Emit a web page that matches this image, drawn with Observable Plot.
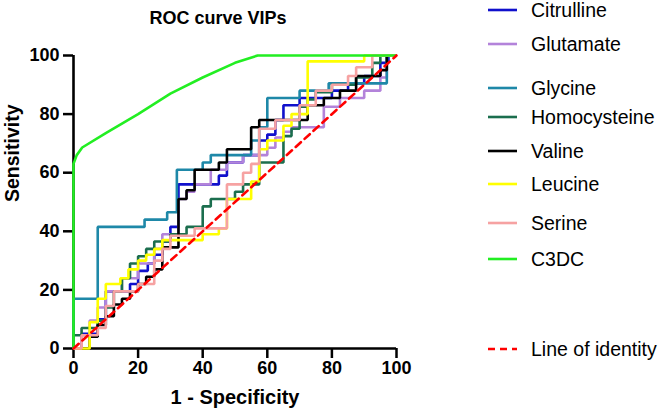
<!DOCTYPE html>
<html><head><meta charset="utf-8">
<script src="https://cdn.jsdelivr.net/npm/d3@7"></script>
<script src="https://cdn.jsdelivr.net/npm/@observablehq/plot@0.6"></script>
<style>
body{margin:0;background:#fff;}
#wrap{position:relative;width:666px;height:416px;font-family:Arial,"Liberation Sans",sans-serif;color:#000;}
#wrap svg.plot{position:absolute;left:0;top:0;}
#title{position:absolute;left:0;top:6px;width:436px;text-align:center;font-weight:bold;font-size:18px;line-height:24px;}
.leg{position:absolute;left:488px;height:0;width:170px;}
.leg svg{position:absolute;left:0;top:-5px;}
.leg span{position:absolute;left:43px;top:-12px;font-size:19.5px;white-space:nowrap;line-height:24px;}
</style></head>
<body>
<div id="wrap"><div id="title">ROC curve VIPs</div></div>
<script>
// ---- data (1 - specificity %, sensitivity %) ----
const xTicks = [0, 20, 40, 60, 80, 100];
const yTicks = [0, 20, 40, 60, 80, 100];

const citrullineX = [0, 2.5, 7.5, 10, 17.5, 20, 23, 25, 27.5, 30, 32.5, 45, 47.5, 52.5, 57.5, 60, 62.5, 65, 70, 80, 85, 90, 95, 97.5, 100];
const citrullineY = [0, 5, 10, 19.5, 22, 26.5, 29, 32, 36.5, 41.5, 56, 59, 63.5, 66, 71, 73, 78, 83, 85.5, 88, 90.5, 93, 97.5, 100, 100];

const glutamateX = [0, 2.5, 5, 7.5, 10, 15, 20, 25, 27.5, 32.5, 35, 37.5, 42.5, 47.5, 52.5, 60, 62.5, 65, 67.5, 77.5, 82.5, 90, 95, 97, 100];
const glutamateY = [0, 4.5, 9.5, 14, 19.5, 24, 29, 34, 39, 51, 53.5, 56, 61, 63.5, 66, 68.5, 72, 74, 75.5, 82.5, 85.5, 88, 92.5, 100, 100];

const glycineX = [0, 0, 7.5, 22, 29, 32, 40, 42.5, 55, 57.5, 60, 70, 79, 97, 100];
const glycineY = [0, 17, 41.5, 44, 46.5, 61, 63.5, 66, 71, 75.5, 85.5, 88, 90.5, 100, 100];

const homocysteineX = [0, 0, 2.5, 7.5, 10, 12.5, 15, 17.5, 20, 22.5, 25, 30, 35, 40, 42.5, 50, 52.5, 57.5, 65, 67.5, 70, 72.5, 75, 80, 87.5, 92.5, 95, 100];
const homocysteineY = [0, 4.5, 7, 9.5, 14, 19.5, 24, 29, 31.5, 34, 36.5, 39, 41.5, 48.5, 51, 53.5, 56, 63.5, 72.5, 75, 82.5, 85, 87.5, 90, 92.5, 97.5, 100, 100];

const valineX = [0, 5, 7.5, 10, 12.5, 15, 17.5, 20, 22.5, 25, 27.5, 32.5, 35, 37.5, 45, 47.5, 55, 57.5, 72.5, 77.5, 82.5, 87.5, 95, 97, 100];
const valineY = [0, 4, 8, 11, 15, 17, 19.5, 22, 24.5, 27, 34.5, 51, 54, 61, 63.5, 68, 75.5, 78, 83, 85.5, 88, 93, 95, 100, 100];

const leucineX = [0, 5, 7.5, 10, 14.5, 17, 20, 22.5, 25, 27.5, 40, 45, 47.5, 55, 57.5, 60, 65, 67.5, 72.5, 90, 100];
const leucineY = [0, 9, 17, 22, 24, 27, 30, 32, 34, 37, 39, 41, 51, 57, 68, 71, 76, 80, 98, 100, 100];

const serineX = [0, 2.5, 7.5, 10, 12.5, 20, 25, 27.5, 30, 37.5, 47.5, 52.5, 55, 57.5, 62.5, 70, 75, 80, 85, 87.5, 92.5, 100];
const serineY = [0, 4.5, 7, 14.5, 19.5, 22, 30, 34, 38.5, 41, 56, 60, 63, 75, 78, 83, 88, 90, 93, 96, 100, 100];

const c3dcX = [0, 0, 1, 2.7, 10, 20, 30, 40, 50, 57, 100];
const c3dcY = [0, 63, 66, 68.6, 73.5, 80, 87, 92.5, 97.5, 100, 100];

const identityX = [0, 100];
const identityY = [0, 100];

const seriesNames = ["Citrulline", "Glutamate", "Glycine", "Homocysteine", "Valine", "Leucine", "Serine", "C3DC"];
const seriesColors = ["#1010CC", "#B383DA", "#1E88A8", "#1B6E4E", "#000000", "#FFFF00", "#F6A2A2", "#22EE22"];
const identityName = "Line of identity";
const identityColor = "#FF0000";

// ---- build rows ----
const seriesXY = [[citrullineX, citrullineY], [glutamateX, glutamateY], [glycineX, glycineY],
  [homocysteineX, homocysteineY], [valineX, valineY], [leucineX, leucineY], [serineX, serineY], [c3dcX, c3dcY]];
const toRows = (xs, ys) => xs.map((x, i) => ({x, y: ys[i]}));

const font = "Arial, 'Liberation Sans', sans-serif";
const lineMarks = seriesXY.map(([xs, ys], i) => Plot.line(toRows(xs, ys), {
  x: "x", y: "y", stroke: seriesColors[i], strokeWidth: 2.6,
  curve: seriesNames[i] === "C3DC" ? "linear" : "step-after",
  strokeLinejoin: "miter", strokeLinecap: "butt"
}));

const chart = Plot.plot({
  width: 666, height: 416,
  marginLeft: 73, marginRight: 270, marginTop: 55, marginBottom: 68,
  x: {domain: [0, 100]},
  y: {domain: [0, 100]},
  style: {fontFamily: font, background: "transparent", overflow: "visible", color: "#000"},
  marks: [
    Plot.axisX({ticks: xTicks, tickSize: 10, tickPadding: 3, strokeWidth: 2.5, fontSize: 18, fontWeight: "bold", label: null}),
    Plot.axisY({ticks: yTicks, tickSize: 10, tickPadding: 4, strokeWidth: 2.5, fontSize: 18, fontWeight: "bold", label: null}),
    Plot.ruleX([0], {stroke: "#000", strokeWidth: 2.6}),
    Plot.ruleY([0], {stroke: "#000", strokeWidth: 2.6}),
    ...lineMarks,
    Plot.line(toRows(identityX, identityY), {x: "x", y: "y", stroke: identityColor, strokeWidth: 2.6, strokeDasharray: "7,5"}),
    Plot.text(["1 - Specificity"], {text: d => d, frameAnchor: "bottom", dy: 55, fontSize: 20, fontWeight: "bold"}),
    Plot.text(["Sensitivity"], {text: d => d, frameAnchor: "left", dx: -61, rotate: -90, fontSize: 19.5, fontWeight: "bold"})
  ]
});
chart.classList.add("plot");
const wrap = document.getElementById("wrap");
wrap.appendChild(chart);

// ---- legend (HTML) ----
const legendY = [10, 43.5, 88, 116.5, 151, 184, 222.5, 259, 349];
const legendItems = seriesNames.map((n, i) => ({name: n, color: seriesColors[i], dash: null}))
  .concat([{name: identityName, color: identityColor, dash: "7,5"}]);
legendItems.forEach((it, i) => {
  const d = document.createElement("div");
  d.className = "leg";
  d.style.top = legendY[i] + "px";
  d.innerHTML = `<svg width="32" height="10"><line x1="0" x2="29" y1="5" y2="5" stroke="${it.color}" stroke-width="2.6" ${it.dash ? `stroke-dasharray="${it.dash}"` : ""}/></svg><span>${it.name}</span>`;
  wrap.appendChild(d);
});
</script>
</body></html>
